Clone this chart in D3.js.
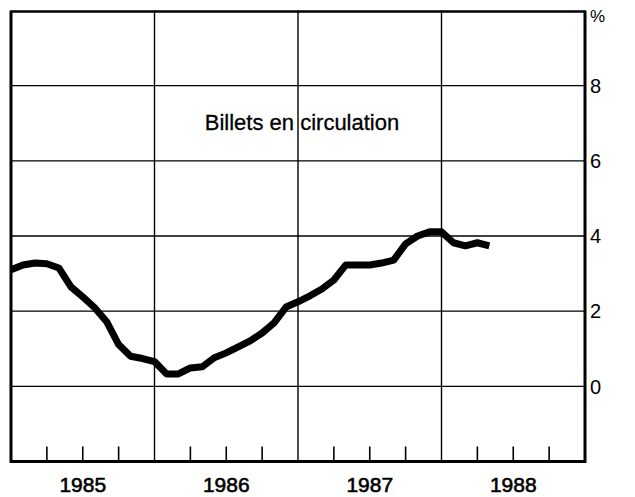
<!DOCTYPE html>
<html>
<head>
<meta charset="utf-8">
<script src="https://d3js.org/d3.v7.min.js"></script>
<style>
    body { margin: 0; background: #fff; }
    text { font-family: "Liberation Sans", Arial, sans-serif; fill: #000; }
</style>
</head>
<body>
<div id="chart"></div>
<script>
// monthly values, Jan 1985 .. May 1988 (%)
var months = d3.range(0, 41);
var billets = [3.10, 3.23, 3.28, 3.26, 3.15, 2.65, 2.38, 2.09, 1.72, 1.11, 0.80, 0.74,
               0.66, 0.33, 0.33, 0.49, 0.52, 0.76, 0.89, 1.05, 1.21, 1.42, 1.69, 2.11,
               2.25, 2.41, 2.59, 2.83, 3.23, 3.23, 3.23, 3.28, 3.36, 3.79, 4.00, 4.11,
               4.11, 3.82, 3.74, 3.82, 3.74];
var years = ["1985", "1986", "1987", "1988"];
var yTicks = [0, 2, 4, 6, 8];
var yGrid = [0, 2, 4, 6, 8];
var title = "Billets en circulation";

LineChart = function(_parentElement) {
    this.parentElement = _parentElement;
    this.initVis();
}

LineChart.prototype.initVis = function() {
    var vis = this;

    vis.width = 635;
    vis.height = 497;
    vis.left = 11;
    vis.right = 585;
    vis.top = 10.5;
    vis.bottom = 461.5;

    vis.svg = d3.select(vis.parentElement).append("svg")
        .attr("width", vis.width)
        .attr("height", vis.height);

    // x in months since Jan 1985
    vis.x = d3.scaleLinear().domain([0, 48]).range([vis.left, vis.right]);
    vis.y = d3.scaleLinear().domain([-2, 10]).range([vis.bottom, vis.top]);

    // horizontal grid
    vis.svg.selectAll(".hgrid")
        .data(yGrid)
        .enter().append("line")
        .attr("class", "hgrid")
        .attr("x1", vis.left).attr("x2", vis.right)
        .attr("y1", function(d) { return vis.y(d); })
        .attr("y2", function(d) { return vis.y(d); })
        .attr("stroke", "#000")
        .attr("stroke-width", 1.4);

    // year boundaries
    vis.svg.selectAll(".vgrid")
        .data([12, 24, 36])
        .enter().append("line")
        .attr("class", "vgrid")
        .attr("x1", function(d) { return vis.x(d); })
        .attr("x2", function(d) { return vis.x(d); })
        .attr("y1", vis.top).attr("y2", vis.bottom)
        .attr("stroke", "#000")
        .attr("stroke-width", 1.4);

    // quarter ticks along the bottom
    var qticks = d3.range(0, 48).filter(function(m) { return m % 3 === 0 && m % 12 !== 0; });
    vis.svg.selectAll(".qtick")
        .data(qticks)
        .enter().append("line")
        .attr("class", "qtick")
        .attr("x1", function(d) { return vis.x(d); })
        .attr("x2", function(d) { return vis.x(d); })
        .attr("y1", vis.bottom - 15).attr("y2", vis.bottom)
        .attr("stroke", "#000")
        .attr("stroke-width", 1.6);

    // frame
    vis.svg.append("line")
        .attr("x1", vis.left).attr("x2", vis.right)
        .attr("y1", vis.top + 1).attr("y2", vis.top + 1)
        .attr("stroke", "#000").attr("stroke-width", 2.5);
    vis.svg.append("line")
        .attr("x1", vis.left).attr("x2", vis.right)
        .attr("y1", vis.bottom).attr("y2", vis.bottom)
        .attr("stroke", "#000").attr("stroke-width", 3);
    vis.svg.append("line")
        .attr("x1", vis.left).attr("x2", vis.left)
        .attr("y1", vis.top).attr("y2", vis.bottom + 1.5)
        .attr("stroke", "#000").attr("stroke-width", 3);
    vis.svg.append("line")
        .attr("x1", vis.right).attr("x2", vis.right)
        .attr("y1", vis.top).attr("y2", vis.bottom + 1.5)
        .attr("stroke", "#000").attr("stroke-width", 3);

    // y labels on the right
    vis.svg.selectAll(".ylab")
        .data(yTicks)
        .enter().append("text")
        .attr("class", "ylab")
        .attr("x", 590)
        .attr("y", function(d) { return vis.y(d); })
        .attr("dy", "0.36em")
        .attr("font-size", 20)
        .text(function(d) { return d; });

    vis.svg.append("text")
        .attr("x", 590)
        .attr("y", 22)
        .attr("font-size", 17)
        .text("%");

    // year labels
    vis.svg.selectAll(".xlab")
        .data(years)
        .enter().append("text")
        .attr("class", "xlab")
        .attr("x", function(d, i) { return vis.x(i * 12 + 6); })
        .attr("y", 492)
        .attr("text-anchor", "middle")
        .attr("font-size", 21)
        .attr("stroke", "#000")
        .attr("stroke-width", 0.6)
        .text(function(d) { return d; });

    vis.svg.append("text")
        .attr("x", 302)
        .attr("y", 130)
        .attr("text-anchor", "middle")
        .attr("font-size", 22)
        .attr("stroke", "#000")
        .attr("stroke-width", 0.3)
        .text(title);

    var line = d3.line()
        .x(function(d, i) { return vis.x(months[i]); })
        .y(function(d) { return vis.y(d); });

    vis.svg.append("path")
        .datum(billets)
        .attr("fill", "none")
        .attr("stroke", "#000")
        .attr("stroke-width", 7)
        .attr("stroke-linejoin", "round")
        .attr("d", line);
}

var chart = new LineChart("#chart");
</script>
</body>
</html>
